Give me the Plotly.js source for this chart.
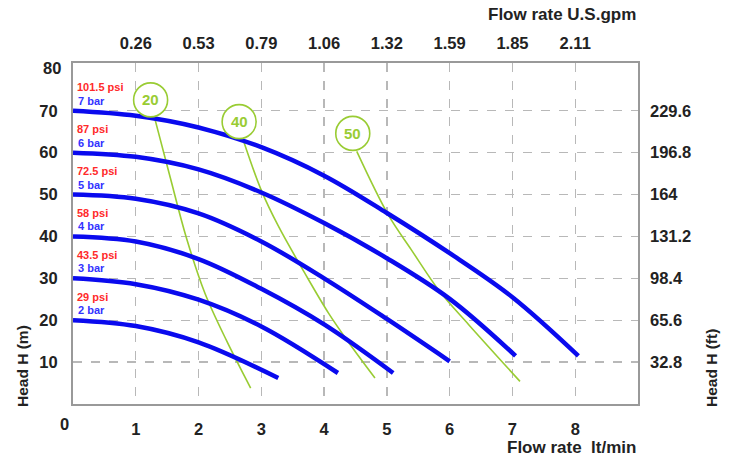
<!DOCTYPE html>
<html>
<head>
<meta charset="utf-8">
<script src="https://cdn.plot.ly/plotly-3.0.1.min.js"></script>
<style>html,body{margin:0;padding:0;background:#fff;}#chart{width:729px;height:458px;}</style>
</head>
<body>
<div id="chart"></div>
<script>
// ---- data ----
const lpmTicks = [1, 2, 3, 4, 5, 6, 7, 8];
const lpmTickText = ['1', '2', '3', '4', '5', '6', '7', '8'];
const gpmTickText = ['0.26', '0.53', '0.79', '1.06', '1.32', '1.59', '1.85', '2.11'];
const headTicks = [10, 20, 30, 40, 50, 60, 70];
const ftTickText = ['32.8', '65.6', '98.4', '131.2', '164', '196.8', '229.6'];

const barLabels = ['2 bar', '3 bar', '4 bar', '5 bar', '6 bar', '7 bar'];
const psiLabels = ['29 psi', '43.5 psi', '58 psi', '72.5 psi', '87 psi', '101.5 psi'];

const q2 = [0, 1, 2, 3.27];            const h2 = [20, 18.6, 14.7, 6.2];
const q3 = [0, 1, 2, 3, 4.22];         const h3 = [30, 28.6, 24.9, 18.5, 7.4];
const q4 = [0, 1, 2, 3, 4, 5.1];       const h4 = [40, 38.8, 34.6, 27.5, 19, 7.4];
const q5 = [0, 1, 2, 3, 4, 5, 6];      const h5 = [50, 49, 45.5, 38.8, 30, 20.3, 10.2];
const q6 = [0, 1, 2, 3, 4, 5, 6, 7.05]; const h6 = [60, 59, 56, 50.5, 43.2, 34.8, 25.1, 11.5];
const q7 = [0, 1, 2, 3, 4, 5, 6, 7, 8.05]; const h7 = [70, 68.8, 66, 61.3, 54.5, 45.6, 36, 25.5, 11.5];

const airLabels = ['20', '40', '50'];
const a20q = [1.30, 1.55, 1.8, 2.1, 2.45, 2.83];  const a20h = [68.3, 54, 40, 26.5, 15, 3.8];
const a40q = [2.71, 3.0, 3.27, 3.69, 4.07, 4.4, 4.81]; const a40h = [63.1, 51, 42.5, 31.3, 21.7, 14.5, 6.2];
const a50q = [4.52, 5.02, 5.39, 5.84, 6.3, 7.12]; const a50h = [60.3, 45.2, 36.8, 26.9, 19, 5.4];

// ---- styling ----
const FONT = 'Liberation Sans, Arial, sans-serif';
const BLUE = '#0a0aee';
const GREEN = '#99cc33';
const RED = '#ff2a2a';
const LBLUE = '#3333ff';
const TXT = '#222';

const pumpQ = [q2, q3, q4, q5, q6, q7];
const pumpH = [h2, h3, h4, h5, h6, h7];
const airQ = [a20q, a40q, a50q];
const airH = [a20h, a40h, a50h];

const traces = [];
airQ.forEach((q, i) => traces.push({
  x: q, y: airH[i], type: 'scatter', mode: 'lines',
  line: {color: GREEN, width: 1.6, shape: 'spline', smoothing: 1},
  hoverinfo: 'skip', showlegend: false
}));
pumpQ.forEach((q, i) => traces.push({
  x: q, y: pumpH[i], type: 'scatter', mode: 'lines',
  line: {color: BLUE, width: 4.5, shape: 'spline', smoothing: 1},
  hoverinfo: 'skip', showlegend: false
}));
// invisible copies so the secondary (gpm / ft) axes are drawn
traces.push({x: q7, y: h7, xaxis: 'x2', yaxis: 'y', type: 'scatter', mode: 'lines',
  line: {width: 0, color: 'rgba(0,0,0,0)'}, hoverinfo: 'skip', showlegend: false});
traces.push({x: q7, y: h7, xaxis: 'x', yaxis: 'y2', type: 'scatter', mode: 'lines',
  line: {width: 0, color: 'rgba(0,0,0,0)'}, hoverinfo: 'skip', showlegend: false});

const annotations = [];
const shapes = [];
pumpH.forEach((h, i) => {
  annotations.push({xref: 'x', yref: 'y', x: 0, y: h[0], xanchor: 'left', yanchor: 'middle',
    xshift: 3, yshift: 10, text: barLabels[i], showarrow: false,
    font: {family: FONT, size: 11, color: LBLUE, weight: 'bold'}});
  annotations.push({xref: 'x', yref: 'y', x: 0, y: h[0], xanchor: 'left', yanchor: 'middle',
    xshift: 2, yshift: 23.5, text: psiLabels[i], showarrow: false,
    font: {family: FONT, size: 11, color: RED, weight: 'bold'}});
});
airQ.forEach((q, i) => {
  shapes.push({type: 'circle', xref: 'x', yref: 'y', xsizemode: 'pixel', ysizemode: 'pixel',
    xanchor: q[0], yanchor: airH[i][0], x0: -21, x1: 13, y0: 1, y1: 35,
    line: {color: GREEN, width: 1.6}, fillcolor: '#ffffff', layer: 'above'});
  annotations.push({xref: 'x', yref: 'y', x: q[0], y: airH[i][0], xshift: -4, yshift: 18,
    text: airLabels[i], showarrow: false, xanchor: 'center', yanchor: 'middle',
    font: {family: FONT, size: 15, color: GREEN, weight: 'bold'}});
});
// axis extras
annotations.push({xref: 'paper', yref: 'y', x: 0, y: 80, xanchor: 'right', yanchor: 'middle', xshift: -10, yshift: 1,
  text: '80', showarrow: false, font: {family: FONT, size: 16.5, color: TXT, weight: 'bold'}});
annotations.push({xref: 'x', yref: 'paper', x: 0, y: 0, xanchor: 'center', yanchor: 'top', xshift: -9, yshift: -9,
  text: '0', showarrow: false, font: {family: FONT, size: 16.5, color: TXT, weight: 'bold'}});
annotations.push({xref: 'paper', yref: 'paper', x: 1, y: 0, xanchor: 'right', yanchor: 'middle', yshift: -43,
  text: 'Flow rate\u00a0\u00a0lt/min', showarrow: false, font: {family: FONT, size: 17, color: TXT, weight: 'bold'}});
annotations.push({xref: 'paper', yref: 'paper', x: 1, y: 1, xanchor: 'right', yanchor: 'middle', yshift: 49,
  text: 'Flow rate U.S.gpm', showarrow: false, font: {family: FONT, size: 17, color: TXT, weight: 'bold'}});
annotations.push({xref: 'paper', yref: 'paper', x: 0, y: 0, xanchor: 'center', yanchor: 'bottom', xshift: -51, yshift: -5,
  textangle: -90, text: 'Head H (m)', showarrow: false, font: {family: FONT, size: 15.5, color: TXT, weight: 'bold'}});
annotations.push({xref: 'paper', yref: 'paper', x: 1, y: 0, xanchor: 'center', yanchor: 'bottom', xshift: 73, yshift: -5,
  textangle: -90, text: 'Head H (ft)', showarrow: false, font: {family: FONT, size: 15.5, color: TXT, weight: 'bold'}});

const gridStyle = {showgrid: true, gridcolor: '#b8b8b8', griddash: 'dash', gridwidth: 1.3};
const tickFont = {family: FONT, size: 16.5, color: TXT, weight: 'bold'};

const layout = {
  width: 729, height: 458,
  margin: {l: 73, r: 91, t: 63, b: 54},
  paper_bgcolor: '#fff', plot_bgcolor: '#fff',
  showlegend: false,
  xaxis: Object.assign({range: [0, 9], tickvals: lpmTicks, ticktext: lpmTickText, tickfont: tickFont,
    ticks: '', ticklabelstandoff: 9, showline: true, linecolor: '#999', linewidth: 2, mirror: true,
    zeroline: false}, gridStyle),
  xaxis2: {range: [0, 9], overlaying: 'x', side: 'top', anchor: 'y', tickvals: lpmTicks, ticktext: gpmTickText,
    tickfont: tickFont, ticks: '', ticklabelstandoff: 10, showgrid: false, zeroline: false, showline: false},
  yaxis: Object.assign({range: [0, 81.4], tickvals: headTicks, tickfont: tickFont, ticks: '', ticklabelstandoff: 10,
    showline: true, linecolor: '#999', linewidth: 2, mirror: true, zeroline: false}, gridStyle),
  yaxis2: {range: [0, 81.4], overlaying: 'y', side: 'right', anchor: 'x', tickvals: headTicks, ticktext: ftTickText,
    tickfont: tickFont, ticks: '', ticklabelstandoff: 11,
    showgrid: false, zeroline: false, showline: false},
  shapes: shapes,
  annotations: annotations
};

Plotly.newPlot('chart', traces, layout, {staticPlot: true, displayModeBar: false});
</script>
</body>
</html>
